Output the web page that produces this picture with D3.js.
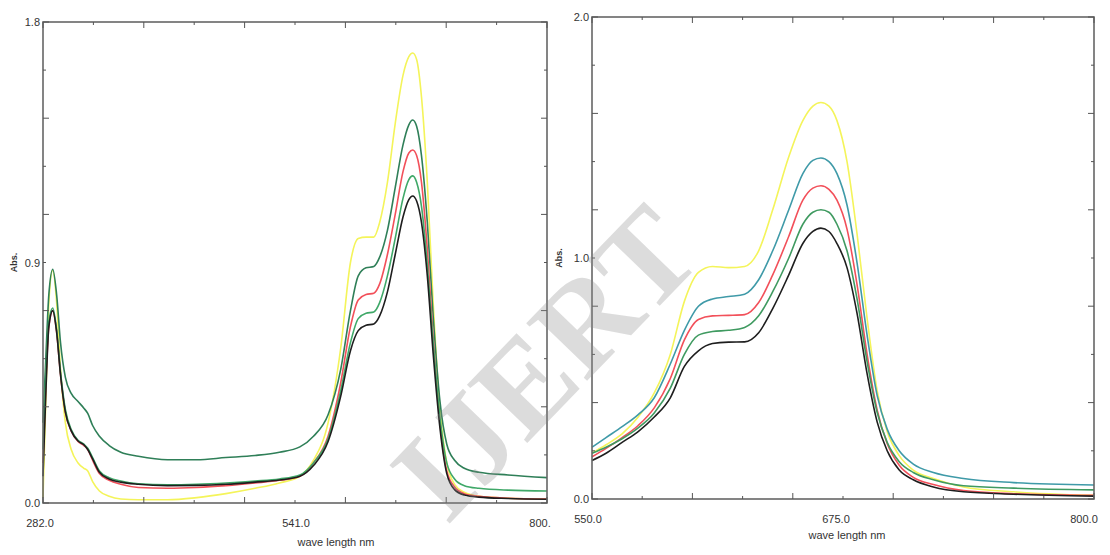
<!DOCTYPE html>
<html>
<head>
<meta charset="utf-8">
<script src="https://cdn.jsdelivr.net/npm/d3@7"></script>
<style>
  body { margin: 0; background: #fff; }
  svg text { font-family: "Liberation Sans", Arial, sans-serif; fill: #333; }
</style>
</head>
<body>
<svg id="canvas" width="1110" height="555"></svg>
<script>
// ---- left spectrum (282 - 800 nm)
let leftNm = [282, 285, 288, 292, 296, 300, 305, 311, 318, 324, 328, 333, 340, 350, 362, 380, 410, 440, 470, 500, 525, 546, 560, 575, 588, 598, 606, 614, 622, 628, 636, 644, 652, 658, 662, 666, 671, 677, 683, 690, 697, 705, 715, 730, 760, 800]
let leftYellow = [0.02, 0.4, 0.75, 0.87, 0.75, 0.5, 0.3, 0.2, 0.15, 0.13, 0.12, 0.08, 0.045, 0.025, 0.015, 0.012, 0.012, 0.02, 0.035, 0.055, 0.075, 0.1, 0.16, 0.3, 0.58, 0.9, 0.99, 0.995, 0.995, 1.05, 1.2, 1.42, 1.6, 1.67, 1.684, 1.66, 1.52, 1.2, 0.75, 0.35, 0.15, 0.07, 0.04, 0.025, 0.018, 0.015]
let leftDkGreen = [0.3, 0.55, 0.78, 0.875, 0.78, 0.6, 0.47, 0.41, 0.38, 0.355, 0.335, 0.29, 0.25, 0.215, 0.19, 0.175, 0.162, 0.162, 0.17, 0.178, 0.19, 0.21, 0.25, 0.33, 0.5, 0.72, 0.85, 0.88, 0.885, 0.92, 1.02, 1.18, 1.34, 1.415, 1.433, 1.41, 1.3, 1.05, 0.7, 0.38, 0.22, 0.16, 0.13, 0.115, 0.105, 0.095]
let leftRed = [0.15, 0.45, 0.66, 0.72, 0.64, 0.48, 0.34, 0.27, 0.23, 0.215, 0.2, 0.16, 0.11, 0.085, 0.07, 0.058, 0.055, 0.058, 0.065, 0.075, 0.085, 0.1, 0.15, 0.25, 0.45, 0.66, 0.76, 0.78, 0.785, 0.82, 0.93, 1.08, 1.24, 1.31, 1.321, 1.3, 1.2, 0.95, 0.62, 0.3, 0.12, 0.06, 0.035, 0.025, 0.018, 0.015]
let leftGreen = [0.2, 0.48, 0.68, 0.73, 0.65, 0.49, 0.35, 0.275, 0.235, 0.22, 0.205, 0.17, 0.12, 0.095, 0.082, 0.072, 0.068, 0.07, 0.075, 0.082, 0.09, 0.105, 0.15, 0.24, 0.42, 0.6, 0.69, 0.71, 0.715, 0.75, 0.85, 0.99, 1.14, 1.21, 1.224, 1.2, 1.11, 0.89, 0.6, 0.32, 0.15, 0.09, 0.065, 0.055, 0.048, 0.045]
let leftBlack = [0.1, 0.42, 0.66, 0.72, 0.64, 0.48, 0.34, 0.27, 0.232, 0.218, 0.2, 0.165, 0.115, 0.09, 0.078, 0.07, 0.065, 0.066, 0.07, 0.078, 0.086, 0.1, 0.14, 0.23, 0.4, 0.57, 0.645, 0.665, 0.67, 0.7, 0.79, 0.93, 1.07, 1.135, 1.149, 1.13, 1.05, 0.85, 0.56, 0.28, 0.11, 0.05, 0.03, 0.022, 0.017, 0.014]

// ---- right spectrum (550 - 800 nm)
let rightNm = [550, 557, 565, 573, 581, 589, 596, 603, 610, 618, 626, 633, 640, 648, 655, 660, 664, 668, 672, 677, 682, 687, 692, 697, 703, 710, 720, 735, 760, 800]
let rightYellow = [0.19, 0.225, 0.27, 0.34, 0.44, 0.6, 0.82, 0.94, 0.965, 0.96, 0.965, 1.03, 1.2, 1.42, 1.57, 1.63, 1.645, 1.63, 1.57, 1.4, 1.1, 0.75, 0.45, 0.28, 0.18, 0.12, 0.085, 0.05, 0.03, 0.015]
let rightTeal = [0.215, 0.255, 0.3, 0.35, 0.42, 0.56, 0.7, 0.8, 0.83, 0.84, 0.85, 0.91, 1.03, 1.2, 1.35, 1.405, 1.415, 1.4, 1.35, 1.22, 0.98, 0.68, 0.43, 0.29, 0.2, 0.145, 0.11, 0.085, 0.068, 0.058]
let rightRed = [0.175, 0.21, 0.255, 0.305, 0.378, 0.5, 0.66, 0.745, 0.76, 0.762, 0.765, 0.815, 0.93, 1.09, 1.24, 1.29, 1.3, 1.285, 1.24, 1.12, 0.89, 0.6, 0.37, 0.23, 0.14, 0.09, 0.06, 0.035, 0.022, 0.015]
let rightGreen = [0.19, 0.215, 0.25, 0.295, 0.357, 0.46, 0.6, 0.68, 0.695, 0.7, 0.712, 0.76, 0.86, 1.0, 1.14, 1.19, 1.2, 1.19, 1.14, 1.03, 0.83, 0.57, 0.36, 0.235, 0.155, 0.11, 0.08, 0.055, 0.045, 0.038]
let rightBlack = [0.16, 0.19, 0.235, 0.28, 0.34, 0.42, 0.55, 0.615, 0.645, 0.651, 0.652, 0.69, 0.79, 0.93, 1.06, 1.11, 1.124, 1.11, 1.06, 0.96, 0.77, 0.52, 0.32, 0.2, 0.12, 0.08, 0.05, 0.03, 0.02, 0.012]

let leftXTicks = ['282.0', '541.0', '800.']
let leftYTicks = ['0.0', '0.9', '1.8']
let rightXTicks = ['550.0', '675.0', '800.0']
let rightYTicks = ['0.0', '1.0', '2.0']

let canvas = d3.select('#canvas')

let drawPanel = (cfg) => {
  let x = d3.scaleLinear().domain(cfg.xDomain).range([cfg.left, cfg.right])
  let y = d3.scaleLinear().domain(cfg.yDomain).range([cfg.bottom, cfg.top])
  let g = canvas.append('g')

  // series
  let line = d3.line()
    .x((d) => x(d[0]))
    .y((d) => y(d[1]))
    .curve(d3.curveMonotoneX)
  cfg.series.forEach((s) => {
    g.append('path')
      .datum(cfg.nm.map((n, i) => [n, s.values[i]]))
      .attr('d', line)
      .attr('fill', 'none')
      .attr('stroke', s.color)
      .attr('stroke-width', 1.6)
  })

  // frame
  g.append('rect')
    .attr('x', cfg.left).attr('y', cfg.top)
    .attr('width', cfg.right - cfg.left).attr('height', cfg.bottom - cfg.top)
    .attr('fill', 'none').attr('stroke', '#666').attr('stroke-width', 1.6)

  // inward ticks on all four sides, 10 divisions
  let xt = d3.range(11).map((i) => cfg.xDomain[0] + i * (cfg.xDomain[1] - cfg.xDomain[0]) / 10)
  let yt = d3.range(11).map((i) => cfg.yDomain[0] + i * (cfg.yDomain[1] - cfg.yDomain[0]) / 10)
  let len = (i) => (i % 2 === 0 ? 6 : 3)
  xt.forEach((v, i) => {
    g.append('line').attr('x1', x(v)).attr('x2', x(v)).attr('y1', cfg.bottom).attr('y2', cfg.bottom - len(i)).attr('stroke', '#555')
    g.append('line').attr('x1', x(v)).attr('x2', x(v)).attr('y1', cfg.top).attr('y2', cfg.top + len(i)).attr('stroke', '#555')
  })
  yt.forEach((v, i) => {
    g.append('line').attr('y1', y(v)).attr('y2', y(v)).attr('x1', cfg.left).attr('x2', cfg.left + len(i)).attr('stroke', '#555')
    g.append('line').attr('y1', y(v)).attr('y2', y(v)).attr('x1', cfg.right).attr('x2', cfg.right - len(i)).attr('stroke', '#555')
  })

  // tick labels
  let xVals = [cfg.xDomain[0], (cfg.xDomain[0] + cfg.xDomain[1]) / 2, cfg.xDomain[1]]
  let yVals = [cfg.yDomain[0], (cfg.yDomain[0] + cfg.yDomain[1]) / 2, cfg.yDomain[1]]
  cfg.xLabels.forEach((t, i) => {
    g.append('text').attr('x', x(xVals[i]) + cfg.xLabelShift[i]).attr('y', cfg.bottom + 24)
      .attr('text-anchor', 'middle').attr('font-size', 11).text(t)
  })
  cfg.yLabels.forEach((t, i) => {
    g.append('text').attr('x', cfg.left - 3).attr('y', y(yVals[i]) + 4)
      .attr('text-anchor', 'end').attr('font-size', 11).text(t)
  })
  g.append('text').attr('x', cfg.titleX).attr('y', cfg.bottom + cfg.titleDy)
    .attr('text-anchor', 'middle').attr('font-size', 11).text('wave length nm')
  g.append('text')
    .attr('transform', 'translate(' + cfg.absX + ',' + y(yVals[1]) + ') rotate(-90)')
    .attr('text-anchor', 'middle').attr('font-size', 9).attr('font-weight', 'bold').text('Abs.')
}

drawPanel({
  left: 43, right: 547, top: 22, bottom: 503,
  xDomain: [282, 800], yDomain: [0, 1.8],
  nm: leftNm,
  series: [
    { values: leftYellow, color: '#f4f45a' },
    { values: leftDkGreen, color: '#2f7f58' },
    { values: leftRed, color: '#f2505a' },
    { values: leftGreen, color: '#3fa868' },
    { values: leftBlack, color: '#1e1e1e' }
  ],
  xLabels: leftXTicks, xLabelShift: [-3, 1, -7],
  yLabels: leftYTicks,
  titleX: 336, titleDy: 43, absX: 17
})

drawPanel({
  left: 592, right: 1094, top: 17, bottom: 499,
  xDomain: [550, 800], yDomain: [0, 2.0],
  nm: rightNm,
  series: [
    { values: rightYellow, color: '#f4f45a' },
    { values: rightTeal, color: '#3f9aa8' },
    { values: rightRed, color: '#f2505a' },
    { values: rightGreen, color: '#3f9a60' },
    { values: rightBlack, color: '#1e1e1e' }
  ],
  xLabels: rightXTicks, xLabelShift: [-4, -7, -10],
  yLabels: rightYTicks,
  titleX: 847, titleDy: 40, absX: 562
})

// watermark
canvas.append('text')
  .attr('transform', 'translate(555,372) rotate(-46)')
  .attr('text-anchor', 'middle')
  .attr('dominant-baseline', 'middle')
  .style('font-family', '"Liberation Serif", "Times New Roman", serif')
  .style('font-size', '128px')
  .style('font-weight', 'bold')
  .style('fill', '#8a8a8a')
  .style('fill-opacity', 0.3)
  .text('IJERT')
</script>
</body>
</html>
